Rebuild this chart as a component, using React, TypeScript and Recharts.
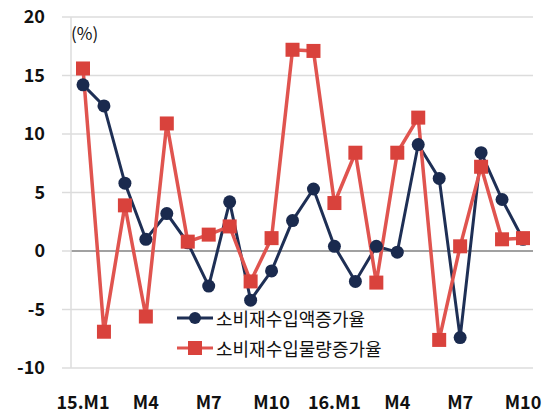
import {
    LineChart, Line, XAxis, YAxis, CartesianGrid, ReferenceLine
} from 'recharts';

// 2015.M1 ~ 2016.M10, 전년동월대비 증가율(%)
const months = [
    '15.M1', 'M2', 'M3', 'M4', 'M5', 'M6', 'M7', 'M8', 'M9', 'M10', 'M11', 'M12',
    '16.M1', 'M2', 'M3', 'M4', 'M5', 'M6', 'M7', 'M8', 'M9', 'M10',
];
const valueGrowth = [
    14.2, 12.4, 5.8, 1.0, 3.2, 0.7, -3.0, 4.2, -4.2, -1.7, 2.6,
    5.3, 0.4, -2.6, 0.4, -0.1, 9.1, 6.2, -7.4, 8.4, 4.4, 1.0,
];
const volumeGrowth = [
    15.6, -6.9, 3.9, -5.6, 10.9, 0.8, 1.4, 2.1, -2.6, 1.1, 17.2,
    17.1, 4.1, 8.4, -2.7, 8.4, 11.4, -7.6, 0.4, 7.2, 1.0, 1.1,
];
const yTicks = [-10, -5, 0, 5, 10, 15, 20];

const SERIES = [
    { key: 'value', name: '소비재수입액증가율', color: '#1E2F55', dotColor: '#1A2A4E', shape: 'circle' },
    { key: 'volume', name: '소비재수입물량증가율', color: '#E0544F', dotColor: '#D9423C', shape: 'square' },
];

const FONT = "'Noto Sans CJK KR', 'Noto Sans', sans-serif";

const data = months.map((m, i) => ({ month: m, value: valueGrowth[i], volume: volumeGrowth[i] }));

const SquareDot = (props: any) => {
    const { cx, cy, index } = props;
    if (cx == null || cy == null) return null;
    return <rect key={`sq-${index}`} x={cx - 7} y={cy - 7} width={14} height={14} fill="#D9423C" />;
};

// legend sits inside the plot, drawn outside recharts so it doesn't shrink the plot area
const LegendBox = () => (
    <div style={{ position: 'absolute', left: 177, top: 303, fontFamily: FONT, fontSize: 18, color: '#111', lineHeight: '30px' }}>
        {SERIES.map(s => (
            <div key={s.key} style={{ display: 'flex', alignItems: 'center' }}>
                <svg width={36} height={16} style={{ marginRight: 3 }}>
                    <line x1={0} y1={8} x2={36} y2={8} stroke={s.color} strokeWidth={3} />
                    {s.shape === 'circle'
                        ? <circle cx={18} cy={8} r={6} fill={s.dotColor} />
                        : <rect x={11} y={1} width={14} height={14} fill={s.dotColor} />}
                </svg>
                <span>{s.name}</span>
            </div>
        ))}
    </div>
);

export default function App() {
    return (
        <div style={{ position: 'absolute', left: 0, top: 0, width: 552, height: 413, background: '#fff' }}>
            <LineChart width={552} height={413} data={data} margin={{ top: 17, right: 19, bottom: 0, left: 0 }}>
                <CartesianGrid vertical={false} stroke="#dcdcdc" strokeWidth={1.5} />
                <XAxis
                    dataKey="month"
                    interval={2}
                    height={45}
                    axisLine={false}
                    tickLine={false}
                    tickSize={0}
                    tickMargin={28}
                    padding={{ left: 12, right: 10 }}
                    tick={{ fill: '#111', fontSize: 18, fontFamily: FONT, fontWeight: 700 }}
                />
                <YAxis
                    domain={[-10, 20]}
                    ticks={yTicks}
                    width={71}
                    axisLine={{ stroke: '#dcdcdc', strokeWidth: 1.5 }}
                    tickLine={{ stroke: '#dcdcdc', strokeWidth: 1.5 }}
                    tickSize={9}
                    tickMargin={17}
                    tick={{ fill: '#111', fontSize: 18, fontFamily: FONT, fontWeight: 700 }}
                />
                <YAxis
                    yAxisId="border"
                    orientation="right"
                    width={0}
                    tick={false}
                    tickLine={false}
                    axisLine={{ stroke: '#dcdcdc', strokeWidth: 1.5 }}
                />
                <ReferenceLine y={0} stroke="#8a8a8a" strokeWidth={1.5} />
                <Line
                    dataKey="value"
                    name={SERIES[0].name}
                    stroke={SERIES[0].color}
                    strokeWidth={3}
                    dot={{ r: 6.5, fill: SERIES[0].dotColor, stroke: SERIES[0].dotColor, strokeWidth: 0 }}
                    isAnimationActive={false}
                />
                <Line
                    dataKey="volume"
                    name={SERIES[1].name}
                    stroke={SERIES[1].color}
                    strokeWidth={3.5}
                    dot={<SquareDot />}
                    isAnimationActive={false}
                />
            </LineChart>
            <LegendBox />
            <div style={{ position: 'absolute', left: 71, top: 20, fontFamily: FONT, fontSize: 17, color: '#111' }}>(%)</div>
        </div>
    );
}
